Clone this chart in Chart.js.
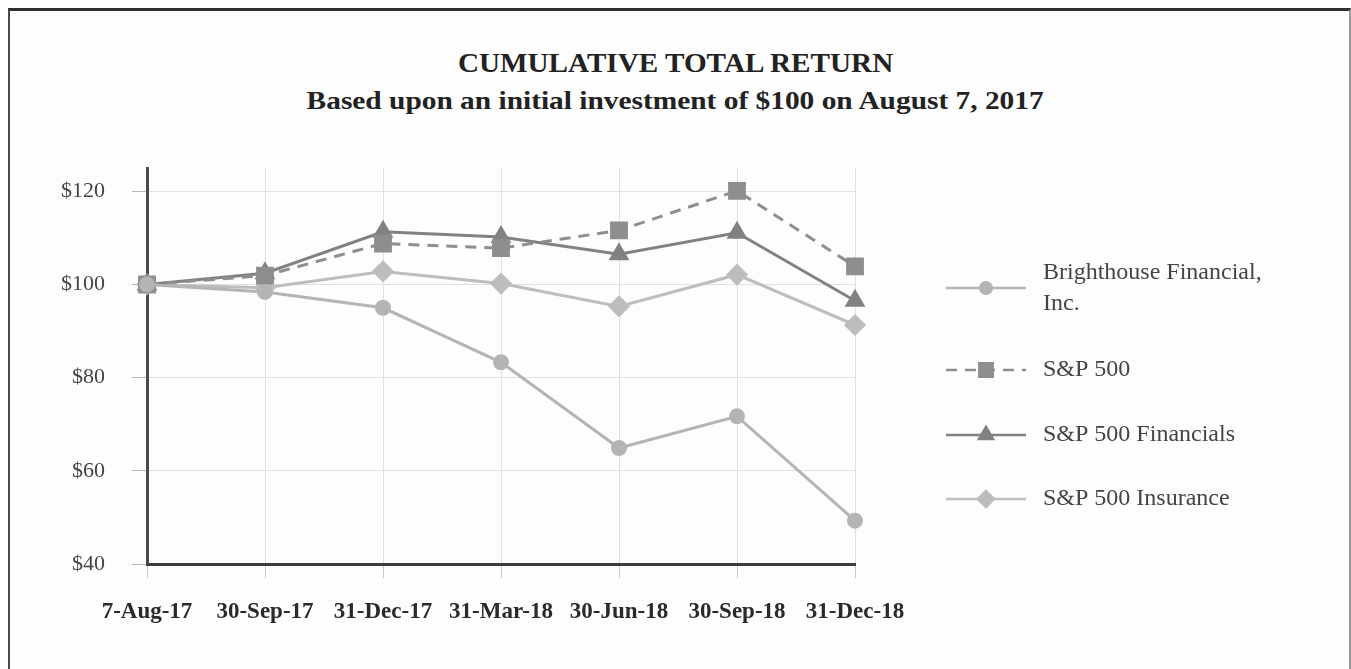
<!DOCTYPE html>
<html>
<head>
<meta charset="utf-8">
<script src="https://cdn.jsdelivr.net/npm/chart.js@4/dist/chart.umd.min.js"></script>
<style>
  html, body { margin: 0; padding: 0; background: #ffffff; }
  #frame {
    position: absolute; left: 8px; top: 8px; width: 1339px; height: 700px;
    border-top: 3px solid #2e2e2e; border-left: 2px solid #4a4a4a; border-right: 2px solid #9a9a9a;
    background: #fdfdfd;
  }
  #myChart { position: absolute; left: 0; top: 0; }
  .heading {
    position: absolute; left: 0; width: 1351px; text-align: center;
    font-family: "Liberation Serif", "Times New Roman", serif; font-weight: bold; color: #222;
  }
  .heading span { display: inline-block; }
  #title { top: 47px; font-size: 27px; line-height: 32px; }
  #title span { transform: scaleX(1.08); }
  #subtitle { top: 85px; font-size: 26px; line-height: 31px; }
  #subtitle span { transform: scaleX(1.13); }
</style>
</head>
<body>
<div id="frame"></div>
<div id="title" class="heading"><span>CUMULATIVE TOTAL RETURN</span></div>
<div id="subtitle" class="heading"><span>Based upon an initial investment of $100 on August 7, 2017</span></div>
<canvas id="myChart" width="1351" height="669"></canvas>
<script>
// dates on the x axis
var dates = ['7-Aug-17', '30-Sep-17', '31-Dec-17', '31-Mar-18', '30-Jun-18', '30-Sep-18', '31-Dec-18'];

// values
var brighthouse = [100, 98.4, 95.0, 83.3, 64.9, 71.7, 49.3];
var sp500 = [100, 101.9, 108.8, 107.8, 111.6, 120.1, 103.9];
var sp500Financials = [100, 102.4, 111.3, 110.2, 106.5, 111.1, 96.5];
var sp500Insurance = [100, 99.3, 102.8, 100.2, 95.3, 102.1, 91.3];

var yTicks = [40, 60, 80, 100, 120];

var seriesNames = [['Brighthouse Financial,', 'Inc.'], ['S&P 500'], ['S&P 500 Financials'], ['S&P 500 Insurance']];

var serif = '"Liberation Serif", "Times New Roman", serif';

// legend on the right side: line sample with a marker, then the name
var sideLegend = {
    id: 'sideLegend',
    afterDraw: function (chart) {
        var ctx = chart.ctx;
        var area = chart.chartArea;
        var x0 = area.right + 91;
        var x1 = x0 + 80;
        var rows = [288, 370, 435, 499];
        ctx.save();
        chart.data.datasets.forEach(function (ds, i) {
            var y = rows[i];
            ctx.strokeStyle = ds.borderColor;
            ctx.lineWidth = 2.5;
            ctx.setLineDash(ds.borderDash || []);
            ctx.beginPath();
            ctx.moveTo(x0, y);
            ctx.lineTo(x1, y);
            ctx.stroke();
            ctx.setLineDash([]);
            Chart.helpers.drawPoint(ctx, {
                pointStyle: ds.pointStyle,
                radius: ds.pointRadius * 0.9,
                borderWidth: 1
            }, (x0 + x1) / 2, y);
            ctx.fillStyle = ds.pointBackgroundColor;
            ctx.fill();

            ctx.fillStyle = '#444';
            ctx.font = '24px ' + serif;
            ctx.textBaseline = 'middle';
            ctx.textAlign = 'left';
            var names = seriesNames[i];
            if (names.length === 2) {
                ctx.fillText(names[0], x1 + 17, y - 15);
                ctx.fillText(names[1], x1 + 17, y + 16);
            } else {
                ctx.fillText(names[0], x1 + 17, y);
            }
        });
        ctx.restore();
    }
};

var ctx = document.getElementById('myChart').getContext('2d');

var myChart = new Chart(ctx, {
    type: 'line',
    data: {
        labels: dates,
        datasets: [{
            label: 'Brighthouse Financial, Inc.',
            data: brighthouse,
            borderColor: '#b4b4b4',
            backgroundColor: '#b4b4b4',
            pointBackgroundColor: '#b4b4b4',
            pointBorderColor: '#b4b4b4',
            borderWidth: 3,
            pointStyle: 'circle',
            pointRadius: 6.5
        }, {
            label: 'S&P 500',
            data: sp500,
            borderColor: '#8e8e8e',
            backgroundColor: '#8e8e8e',
            pointBackgroundColor: '#8e8e8e',
            pointBorderColor: '#8e8e8e',
            borderWidth: 3,
            borderDash: [11, 8],
            pointStyle: 'rect',
            pointRadius: 10.5
        }, {
            label: 'S&P 500 Financials',
            data: sp500Financials,
            borderColor: '#818181',
            backgroundColor: '#818181',
            pointBackgroundColor: '#818181',
            pointBorderColor: '#818181',
            borderWidth: 3,
            pointStyle: 'triangle',
            pointRadius: 9
        }, {
            label: 'S&P 500 Insurance',
            data: sp500Insurance,
            borderColor: '#bdbdbd',
            backgroundColor: '#bdbdbd',
            pointBackgroundColor: '#bdbdbd',
            pointBorderColor: '#bdbdbd',
            borderWidth: 3,
            pointStyle: 'rectRot',
            pointRadius: 9
        }]
    },
    options: {
        responsive: false,
        animation: false,
        layout: {
            padding: { left: 0, right: 496, top: 168, bottom: 0 }
        },
        plugins: {
            legend: { display: false },
            tooltip: { enabled: false }
        },
        scales: {
            x: {
                offset: false,
                grid: {
                    color: '#e0e0e0',
                    lineWidth: 1,
                    tickLength: 14,
                    tickColor: '#c8c8c8'
                },
                border: { color: '#3c3c3c', width: 3 },
                ticks: {
                    color: '#2a2a2a',
                    padding: 20,
                    maxRotation: 0,
                    autoSkip: false,
                    font: { family: serif, size: 23, weight: 'bold' }
                },
                afterFit: function (scale) { scale.height = 105; }
            },
            y: {
                min: 40,
                max: 125,
                grid: {
                    color: '#e0e0e0',
                    lineWidth: 1,
                    tickLength: 15,
                    tickColor: '#b8b8b8'
                },
                border: { color: '#4a4a4a', width: 3 },
                ticks: {
                    color: '#444',
                    padding: 27,
                    font: { family: serif, size: 22 },
                    callback: function (v) { return '$' + v; }
                },
                afterBuildTicks: function (scale) {
                    scale.ticks = yTicks.map(function (v) { return { value: v }; });
                },
                afterFit: function (scale) { scale.width = 147; }
            }
        }
    },
    plugins: [sideLegend]
});
</script>
</body>
</html>
